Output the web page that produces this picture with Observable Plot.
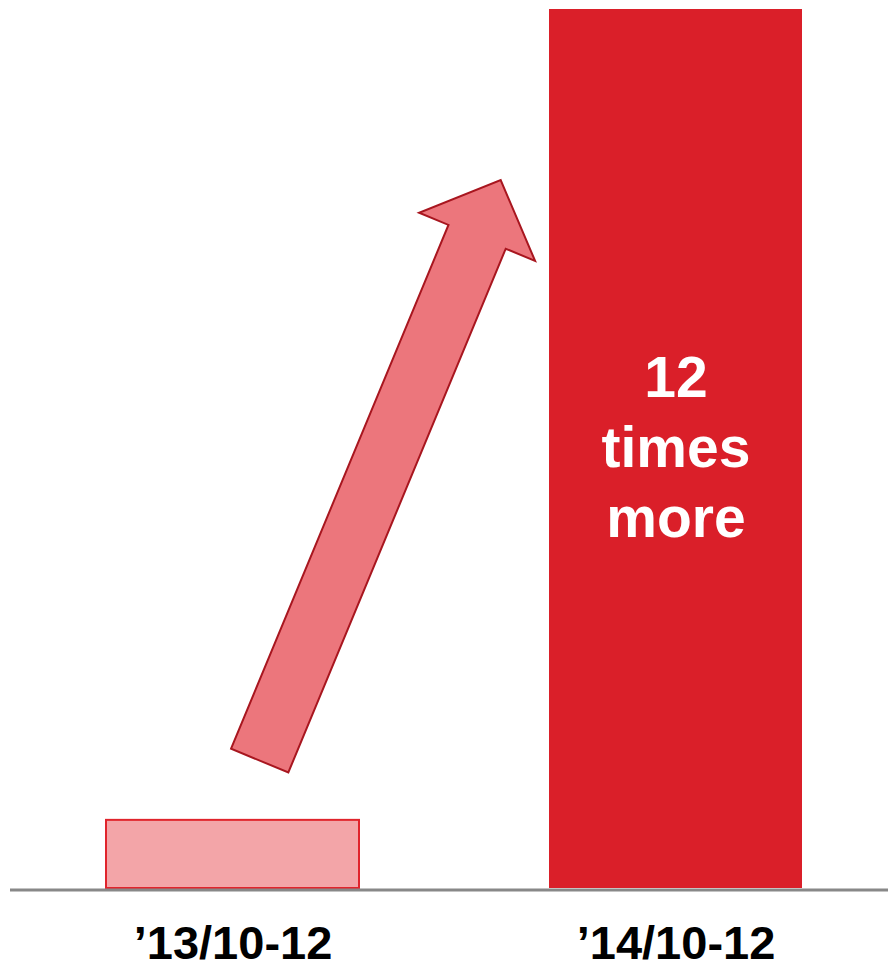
<!DOCTYPE html>
<html><head><meta charset="utf-8">
<script src="https://cdn.jsdelivr.net/npm/d3@7"></script>
<script src="https://cdn.jsdelivr.net/npm/@observablehq/plot@0.6"></script>
<style>body{margin:0;background:#fff} #chart{width:888px;height:964px}</style>
</head><body><div id="chart"></div>
<script>
// Data
const periods = ["\u201913/10-12", "\u201914/10-12"];
const values = [1, 12.9];
const barFills = ["#F3A5A8", "#DA1F29"];
const barStrokes = ["#E0242C", "none"];
const calloutLines = ["12", "times", "more"];
const calloutValue = 6.52;
// arrow anchors: band position (offset in bandwidths from band centre) and value
const arrowFrom = {period: periods[0], offset: 0.1075, value: 1.87};
const arrowTo = {period: periods[1], offset: -0.691, value: 10.39};

const data = periods.map((p, i) => ({period: p, value: values[i], fill: barFills[i], stroke: barStrokes[i]}));

function arrowMark(index, scales, vals, dimensions, context) {
  const x = scales.x, y = scales.y;
  const bw = typeof x.bandwidth === "function" ? x.bandwidth() : scales.scales.x.bandwidth;
  const cx = p => x(p) + bw / 2;
  const tx = cx(arrowFrom.period) + arrowFrom.offset * bw, ty = y(arrowFrom.value);
  const px = cx(arrowTo.period) + arrowTo.offset * bw, py = y(arrowTo.value);
  const L = Math.hypot(px - tx, py - ty);
  const ux = (px - tx) / L, uy = (py - ty) / L;
  const nx = -uy, ny = ux;
  const shaft = 31, head = 62.8, headLen = 61.5;
  const bx = px - ux * headLen, by = py - uy * headLen;
  const pts = [
    [tx - nx * shaft, ty - ny * shaft],
    [bx - nx * shaft, by - ny * shaft],
    [bx - nx * head, by - ny * head],
    [px, py],
    [bx + nx * head, by + ny * head],
    [bx + nx * shaft, by + ny * shaft],
    [tx + nx * shaft, ty + ny * shaft]
  ];
  const path = d3.create("svg:path")
    .attr("d", "M" + pts.map(p => p.join(",")).join("L") + "Z")
    .attr("fill", "#EC767C")
    .attr("stroke", "#A8161F")
    .attr("stroke-width", 2)
    .attr("stroke-linejoin", "miter");
  return path.node();
}

const chart = Plot.plot({
  width: 888,
  height: 964,
  marginLeft: 10,
  marginRight: 0,
  marginTop: 9,
  marginBottom: 76,
  style: {fontFamily: "'Liberation Sans', Arial, sans-serif", background: "#fff", color: "#000"},
  x: {domain: periods, paddingInner: 0.4284, paddingOuter: 0.204, align: 0.53, label: null},
  y: {domain: [0, d3.max(values)], axis: null},
  marks: [
    Plot.barY(data, {x: "period", y: "value", fill: "fill", stroke: "stroke", strokeWidth: 2}),
    Plot.ruleY([0], {stroke: "#888888", strokeWidth: 3, dy: 1.5}),
    arrowMark,
    Plot.text([{period: periods[1], value: calloutValue, label: calloutLines.join("\n")}], {
      x: "period", y: "value", text: "label", fill: "#ffffff", fontSize: 57, fontWeight: "bold", lineHeight: 1.23
    }),
    Plot.axisX({tickSize: 0, tickPadding: 37, fontSize: 47, fontWeight: "bold", fill: "#000", label: null})
  ]
});
document.getElementById("chart").appendChild(chart);
</script>
</body></html>
